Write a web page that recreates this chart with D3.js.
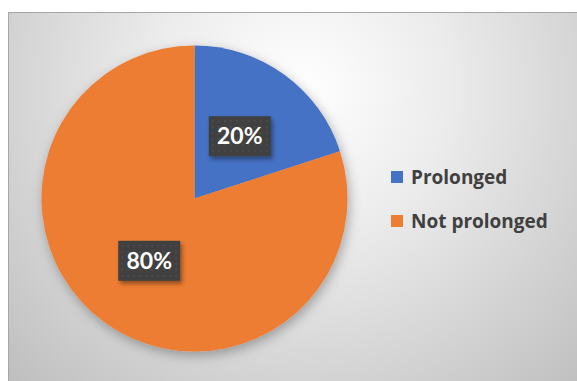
<!DOCTYPE html>
<html><head><meta charset="utf-8">
<script src="https://cdn.jsdelivr.net/npm/d3@7"></script>
<style>html,body{margin:0;padding:0;background:#fff;}svg{display:block;}</style>
</head><body>
<script>
const categories = ["Prolonged", "Not prolonged"];
const values = [20, 80];
const labels = ["20%", "80%"];
const colors = ["#4472C4", "#ED7D31"];

const W = 577, H = 381;
const svg = d3.select("body").append("svg").attr("width", W).attr("height", H);
const defs = svg.append("defs");
const rg = defs.append("radialGradient").attr("id","bg").attr("gradientUnits","userSpaceOnUse")
  .attr("cx",300).attr("cy",90).attr("r",420);
rg.append("stop").attr("offset","0%").attr("stop-color","#ffffff");
rg.append("stop").attr("offset","35%").attr("stop-color","#ececec");
rg.append("stop").attr("offset","100%").attr("stop-color","#bdbdbd");
const sh = defs.append("filter").attr("id","sh").attr("x","-30%").attr("y","-30%").attr("width","160%").attr("height","160%");
sh.append("feDropShadow").attr("dx",2).attr("dy",4).attr("stdDeviation",6).attr("flood-color","#000").attr("flood-opacity",0.3);
const sh2 = defs.append("filter").attr("id","sh2").attr("x","-30%").attr("y","-30%").attr("width","160%").attr("height","160%");
sh2.append("feDropShadow").attr("dx",2).attr("dy",3).attr("stdDeviation",2).attr("flood-color","#000").attr("flood-opacity",0.4);
const pat = defs.append("pattern").attr("id","dots").attr("width",6).attr("height",6).attr("patternUnits","userSpaceOnUse");
pat.append("rect").attr("width",6).attr("height",6).attr("fill","#404040");
pat.append("circle").attr("cx",3).attr("cy",3).attr("r",0.8).attr("fill","#595959");

// chart area
svg.append("rect").attr("x",8.5).attr("y",12.5).attr("width",W).attr("height",H)
  .attr("fill","url(#bg)").attr("stroke","#a6a6a6").attr("stroke-width",1);

const cx = 194.5, cy = 198.5, R = 153;
const pie = d3.pie().sort(null).value(d => d)(values);
const arc = d3.arc().innerRadius(0).outerRadius(R);
const labArc = d3.arc().innerRadius(77).outerRadius(77);
const g = svg.append("g").attr("transform",`translate(${cx},${cy})`);
g.append("g").attr("filter","url(#sh)").selectAll("path").data(pie).join("path")
  .attr("d",arc).attr("fill",(d,i)=>colors[i]);

const lg = g.selectAll("g.lab").data(pie).join("g").attr("class","lab")
  .attr("transform",d=>`translate(${labArc.centroid(d)})`);
lg.append("rect").attr("x",-31).attr("y",-20).attr("width",62).attr("height",40)
  .attr("fill","url(#dots)").attr("filter","url(#sh2)");
lg.append("text").attr("text-anchor","middle").attr("y",8)
  .attr("font-family","Lato, 'Open Sans', sans-serif").attr("font-weight","bold").attr("font-size",23)
  .attr("fill","#fff").text((d,i)=>labels[i]);

// legend
const leg = svg.append("g").attr("transform","translate(391,171)");
const items = leg.selectAll("g").data(categories).join("g").attr("transform",(d,i)=>`translate(0,${i*44})`);
items.append("rect").attr("width",12).attr("height",12).attr("fill",(d,i)=>colors[i]);
items.append("text").attr("x",20).attr("y",12.5)
  .attr("font-family","'Open Sans', Lato, sans-serif").attr("font-weight","bold").attr("font-size",19)
  .attr("fill","#404040").text(d=>d);
</script>
</body></html>
